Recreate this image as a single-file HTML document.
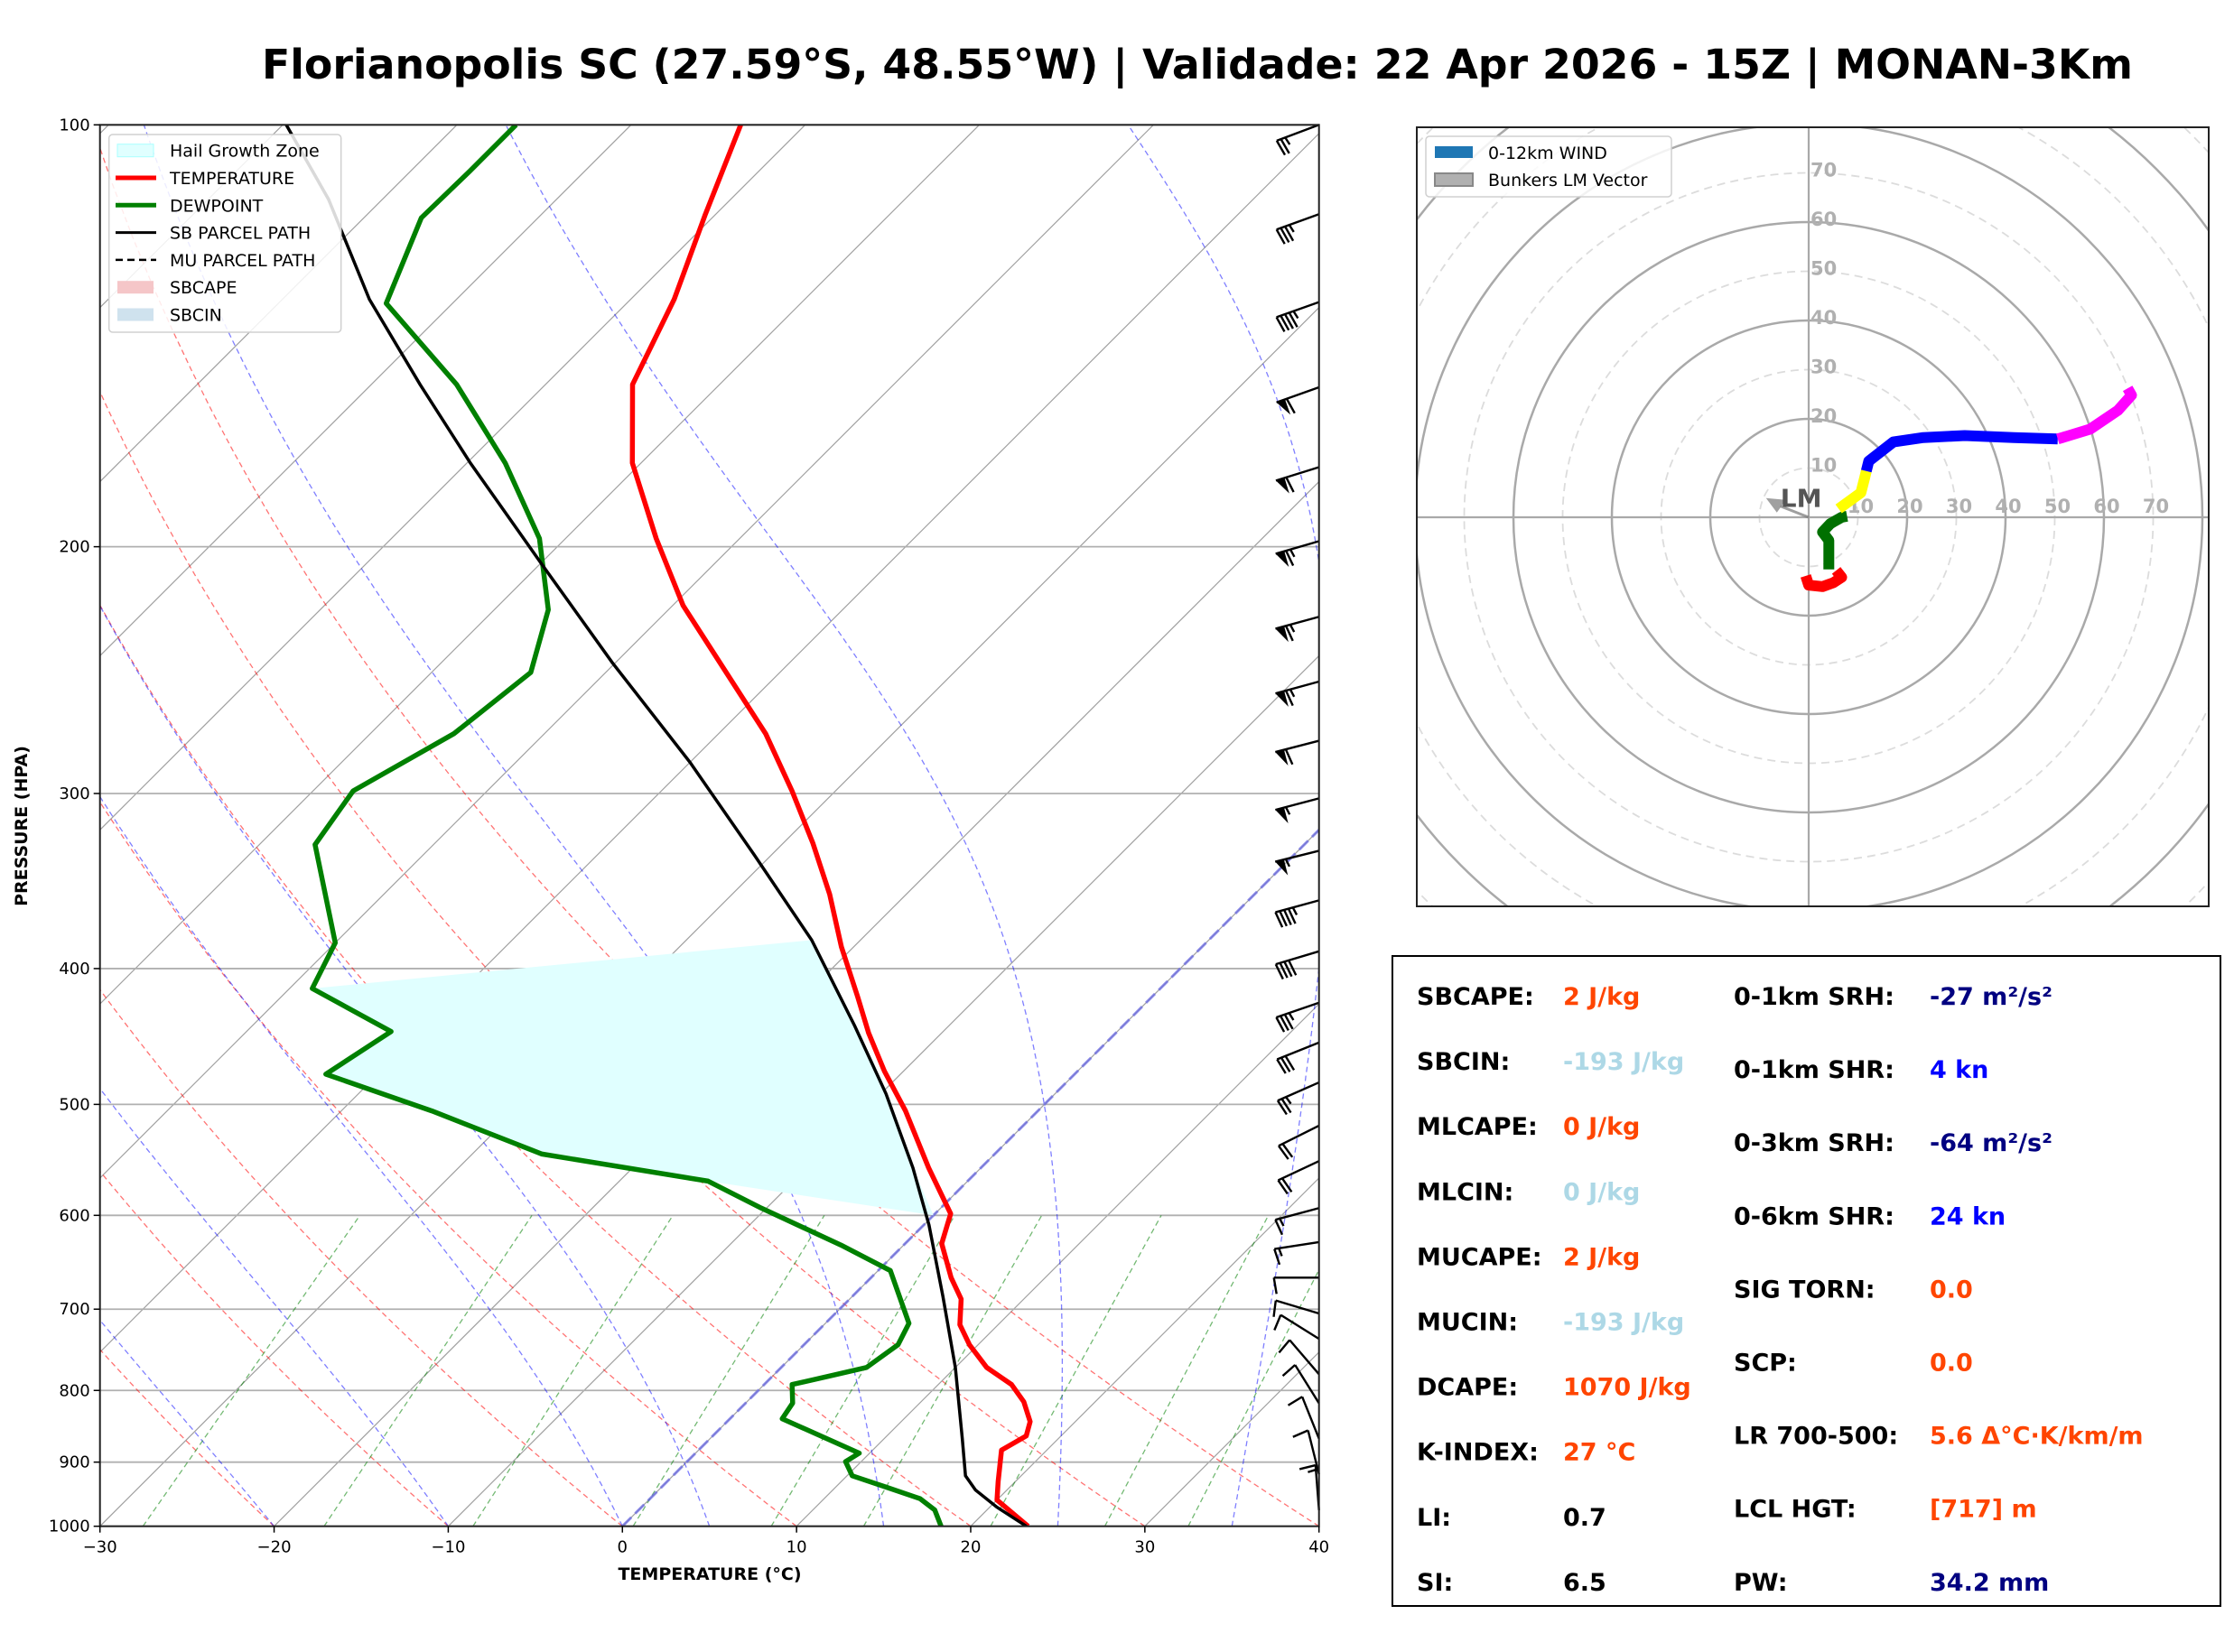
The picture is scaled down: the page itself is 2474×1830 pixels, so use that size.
<!DOCTYPE html>
<html><head><meta charset="utf-8">
<style>
html,body{margin:0;padding:0;background:#fff;}
svg{display:block;font-family:"DejaVu Sans","Liberation Sans",sans-serif;}
</style></head>
<body>
<svg id="fig" width="2474" height="1830" viewBox="0 0 2474 1830" xmlns="http://www.w3.org/2000/svg">
<rect x="0" y="0" width="2474" height="1830" fill="#fff"/>
<text x="1326" y="87" text-anchor="middle" font-size="45" font-weight="bold" textLength="2072" lengthAdjust="spacingAndGlyphs">Florianopolis SC (27.59°S, 48.55°W) | Validade: 22 Apr 2026 - 15Z | MONAN-3Km</text>
<defs>
<clipPath id="skewClip"><rect x="110.7" y="138.3" width="1350" height="1552.4"/></clipPath>
<clipPath id="hodoClip"><rect x="1569" y="141" width="877" height="863"/></clipPath>
</defs>
<g id="skew"></g>
<g id="hodo"></g>
<g id="stats"></g>
</svg>
<script>
// ---------- Skew-T data ----------
const tempP = [100,115.8,133.2,153.2,174.3,197.3,220.3,271.9,298.7,325.5,354,386,419,444.6,473.4,505.4,555,598.4,628.5,664.7,688.4,718.1,742.1,770.4,792.2,815,842,862,882.5,929,957.8,978,1000];
const tempT = [-73.7,-70.6,-67.5,-65.0,-60.5,-54.8,-49.4,-37.3,-32.5,-28.3,-24.4,-20.7,-16.9,-14.2,-11.1,-7.6,-3.0,0.9,2.1,4.6,6.4,7.8,9.5,11.8,14.2,15.9,17.4,18.0,17.4,19.0,20.0,21.6,23.3];
const dewP = [100,107.9,116.5,134.1,153.2,174.3,197.3,221.8,245.9,271.9,298.7,326.3,383.4,413.3,443.6,475.8,505.4,542.5,567.2,592.9,630,657,716.5,742.1,770.4,781,792.2,816.8,838.1,886.8,899.2,920.4,937.8,955.6,973.6,1000];
const dewT = [-86.6,-86.6,-86.7,-83.8,-75.1,-67.8,-61.5,-56.9,-54.3,-55.2,-57.7,-56.8,-50.0,-48.7,-41.7,-43.0,-34.8,-26.0,-14.9,-10.3,-3.6,0.7,4.8,5.4,4.9,3.3,1.6,2.7,3.0,9.4,9.1,10.3,12.9,15.5,17.0,18.3];
const parcelP = [100,113,133.2,153.2,174.3,205.8,241.9,285,331.8,381.7,439.5,491.4,555,609.6,685.4,770.4,866.3,920.4,942.3,969,1000];
const parcelT = [-99.8,-93.1,-85.0,-77.2,-69.8,-59.9,-50.2,-40.0,-31.0,-22.8,-15.4,-9.7,-3.9,0.3,5.2,10.0,14.5,16.8,18.2,20.4,23.2];
const pTicks = [100,200,300,400,500,600,700,800,900,1000];
const tTicks = [-30,-20,-10,0,10,20,30,40];
const barbP = [100,115.8,133.8,153.9,175.5,198.2,224.4,249.6,275.1,302.4,329.6,357.6,388.8,423.1,451.7,482.3,517.8,548.8,592.9,627,664.7,705,735,779,817,866,918,974];
const barbU = [24,33,42,56,58,62,62,62,58,53,52,44,40,35,30,25,20,17,15,13,12,10,8,6,5,4,3,1];
const barbV = [9,12,15,20,18,18,17,17,15,14,13,12,12,12,12,11,10,8,4,2,0,-3,-5,-7,-8,-10,-12,-13];
const dryT0 = [-30,-20,-10,0,10,20,30,40];
const moistT0 = [-20,-10,0,5,15,25,35];
const mixW = [0.0004,0.001,0.002,0.004,0.007,0.01,0.016,0.024,0.032];
// ---------- Hodograph data (kn) ----------
const hodoRedU = [-0.6,0,2.8,5,6.7,5.6];
const hodoRedV = [-11.9,-13.8,-14.1,-13.3,-12.2,-10.8];
const hodoGreenU = [4.1,4.1,2.8,4.4,6.7,7.8];
const hodoGreenV = [-10.6,-4.7,-3,-1.3,0,0.2];
const hodoYellowU = [6.1,10.6,11.4,11.7];
const hodoYellowV = [1.7,5,8.1,9.4];
const hodoBlueU = [11.7,12.2,17.2,23.3,31.7,41.7,50.6];
const hodoBlueV = [9.4,11.4,15.3,16.2,16.6,16.2,15.9];
const hodoMagU = [50.6,57.2,62.8,65.6,64.8];
const hodoMagV = [15.9,17.9,21.7,24.8,26.2];
const lmU = [-7.2];
const lmV = [2.8];
const ringLabels = [10,20,30,40,50,60,70];

const NS='http://www.w3.org/2000/svg';
function mk(tag, attrs, parent, txt){const e=document.createElementNS(NS,tag);for(const k in attrs)e.setAttribute(k,attrs[k]);if(txt!==undefined)e.textContent=txt;parent.appendChild(e);return e;}

const X0=110.7, X1=1460.7, Y100=138.3, Y1000=1690.7, PXT=(X1-X0)/70, LOGH=Y1000-Y100;
function yP(p){return Y1000 - LOGH*Math.log10(1000/p);}
function xT(T,p){return X0 + (T+30)*PXT + (Y1000 - yP(p));}
function pathTP(ps,ts){return ps.map((p,i)=>(i?'L':'M')+xT(ts[i],p).toFixed(1)+','+yP(p).toFixed(1)).join(' ');}

const skew=document.getElementById('skew');
const plot=mk('g',{'clip-path':'url(#skewClip)'},skew);



for(let T=-130;T<=40;T+=10){
  const l=mk('line',{x1:xT(T,1000),y1:yP(1000),x2:xT(T,100),y2:yP(100),stroke:'#a0a0a0','stroke-width':1.2},plot);
  
  
}
pTicks.forEach(p=>{
  const l=mk('line',{x1:X0,y1:yP(p),x2:X1,y2:yP(p),stroke:'#b0b0b0','stroke-width':1.8},plot);
  
  
});
const plev=[];for(let p=1000;p>=100;p-=10)plev.push(p);
dryT0.forEach(t0=>{
  const th=t0+273.15;
  const ts=plev.map(p=>th*Math.pow(p/1000,0.2857)-273.15);
  const l=mk('path',{d:pathTP(plev,ts),fill:'none',stroke:'rgba(255,0,0,0.55)','stroke-width':1.3,'stroke-dasharray':'6,4'},plot);
  
  
});
function es(Tc){return 6.112*Math.exp(17.67*Tc/(Tc+243.5));}
moistT0.forEach(t0=>{
  let T=t0+273.15; const ps=[1000], ts=[t0];
  for(let p=1000;p>100;p-=2){
    const e=es(T-273.15), rs=0.622*e/(p-e);
    const dTdp=(1/p)*(287*T+2.5e6*rs)/(1005+2.5e6*2.5e6*rs*0.622/(287*T*T));
    T-=dTdp*2; ps.push(p-2); ts.push(T-273.15);
  }
  const l=mk('path',{d:pathTP(ps,ts),fill:'none',stroke:'rgba(0,0,255,0.5)','stroke-width':1.3,'stroke-dasharray':'6,4'},plot);
  
  
});
mixW.forEach(w=>{
  const ps=[1000,600];
  const ts=ps.map(p=>{const e=w*p/(0.622+w);const a=Math.log(e/6.112);return 243.5*a/(17.67-a);});
  const l=mk('path',{d:pathTP(ps,ts),fill:'none',stroke:'rgba(0,128,0,0.55)','stroke-width':1.3,'stroke-dasharray':'6,4'},plot);
  
  
});
const fz=mk('line',{x1:xT(0,1000),y1:yP(1000),x2:xT(0,100),y2:yP(100),stroke:'rgba(100,100,230,0.7)','stroke-width':3,'stroke-dasharray':'14,6'},plot);



(function(){
  const pts=[];
  parcelP.forEach((p,i)=>{if(p>=381&&p<=600)pts.push([xT(parcelT[i],p),yP(p)]);});
  pts.push([xT(0.0,600),yP(600)]);
  for(let i=dewP.length-1;i>=0;i--){const p=dewP[i];if(p>=413&&p<=570)pts.push([xT(dewT[i],p),yP(p)]);}
  const h=mk('polygon',{points:pts.map(q=>q[0].toFixed(1)+','+q[1].toFixed(1)).join(' '),fill:'#e0ffff',stroke:'none'},plot);
  
  
})();

const tl=mk('path',{d:pathTP(tempP,tempT),fill:'none',stroke:'#ff0000','stroke-width':5.5,'stroke-linejoin':'round'},plot);


const dl=mk('path',{d:pathTP(dewP,dewT),fill:'none',stroke:'#008000','stroke-width':5.5,'stroke-linejoin':'round'},plot);


const pl=mk('path',{d:pathTP(parcelP,parcelT),fill:'none',stroke:'#000','stroke-width':3.5},plot);



barbP.forEach((p,i)=>{
  const u=barbU[i], v=barbV[i]; const spd=Math.hypot(u,v);
  const ax=X1, ay=yP(p); const L=50;
  const sx=-u/spd, sy=v/spd;
  const fx=sy, fy=-sx;
  const g=mk('g',{stroke:'#000','stroke-width':2.4,fill:'#000'},skew);
  
  
  const ex=ax+sx*L, ey=ay+sy*L;
  mk('line',{x1:ax,y1:ay,x2:ex,y2:ey},g);
  let r=Math.round(spd/5)*5; let pos=0;
  while(r>=50){const a=[ex-sx*pos,ey-sy*pos],b=[ex-sx*(pos+10),ey-sy*(pos+10)],c=[b[0]+fx*18,b[1]+fy*18];
    mk('polygon',{points:a.join(',')+' '+b.join(',')+' '+c.join(','),stroke:'none'},g);pos+=12;r-=50;}
  while(r>=10){const a=[ex-sx*pos,ey-sy*pos];mk('line',{x1:a[0],y1:a[1],x2:a[0]+fx*18-sx*3,y2:a[1]+fy*18-sy*3},g);pos+=5;r-=10;}
  if(r>=5){if(pos===0)pos=6;const a=[ex-sx*pos,ey-sy*pos];mk('line',{x1:a[0],y1:a[1],x2:a[0]+fx*9-sx*2,y2:a[1]+fy*9-sy*2},g);}
});

const fr=mk('rect',{x:X0,y:Y100,width:X1-X0,height:Y1000-Y100,fill:'none',stroke:'#222','stroke-width':2},skew);


pTicks.forEach(p=>{
  mk('line',{x1:X0-7,y1:yP(p),x2:X0,y2:yP(p),stroke:'#000','stroke-width':1.5},skew);
  const t=mk('text',{x:X0-11,y:yP(p)+6,'text-anchor':'end','font-size':18},skew,String(p));
  
  
});
tTicks.forEach(T=>{
  const x=X0+(T+30)*PXT;
  mk('line',{x1:x,y1:Y1000,x2:x,y2:Y1000+7,stroke:'#000','stroke-width':1.5},skew);
  const t=mk('text',{x:x,y:Y1000+29,'text-anchor':'middle','font-size':18},skew,String(T).replace('-','\u2212'));
  
  
});
const xl=mk('text',{x:786,y:1750,'text-anchor':'middle','font-size':19,'font-weight':'bold'},skew,'TEMPERATURE (°C)');


const yl=mk('text',{x:0,y:0,'text-anchor':'middle','font-size':19,'font-weight':'bold',transform:'translate(30,915) rotate(-90)'},skew,'PRESSURE (HPA)');



const lg=mk('g',{},skew);


mk('rect',{x:120.7,y:149,width:257,height:219,rx:4,fill:'rgba(255,255,255,0.85)',stroke:'#d0d0d0','stroke-width':1.5},lg);
const legItems=[['Hail Growth Zone','patch','#e0ffff','#aaffff'],['TEMPERATURE','line','#ff0000'],['DEWPOINT','line','#008000'],['SB PARCEL PATH','line','#000'],['MU PARCEL PATH','dash','#000'],['SBCAPE','patch','#f5c6c8','none'],['SBCIN','patch','#cfe2ee','none']];
legItems.forEach((it,i)=>{
  const cy=166.7+i*30.3;
  const e=mk('g',{},lg);
  
  
  if(it[1]==='patch')mk('rect',{x:130,y:cy-7,width:40,height:14,fill:it[2],stroke:it[3],'stroke-width':1},e);
  else if(it[1]==='line')mk('line',{x1:128,y1:cy,x2:173,y2:cy,stroke:it[2],'stroke-width':it[2]==='#000'?3:5},e);
  else mk('line',{x1:128,y1:cy,x2:173,y2:cy,stroke:it[2],'stroke-width':2.5,'stroke-dasharray':'8,5'},e);
  mk('text',{x:188,y:cy+7,'font-size':19},e,it[0]);
});

// ---------- Hodograph ----------
const hodo=document.getElementById('hodo');
const HX=2003, HY=573, HK=5.45;
function hx(u){return HX+u*HK;} function hy(v){return HY-v*HK;}
const hg=mk('g',{'clip-path':'url(#hodoClip)'},hodo);
for(let r=10;r<=110;r+=10){
  const c=mk('circle',{cx:HX,cy:HY,r:r*HK,fill:'none',stroke:r%20===0?'#a9a9a9':'#dcdcdc','stroke-width':r%20===0?2.5:1.8,'stroke-dasharray':r%20===0?'none':'9,6'},hg);
  
  
}
mk('line',{x1:1569,y1:HY,x2:2446,y2:HY,stroke:'#a9a9a9','stroke-width':2.2},hg);
mk('line',{x1:HX,y1:141,x2:HX,y2:1004,stroke:'#a9a9a9','stroke-width':2.2},hg);
ringLabels.forEach(k=>{
  const a=mk('text',{x:hx(k)+3,y:HY-5,'text-anchor':'middle','font-size':21,'font-weight':'bold',fill:'#b0b0b0'},hg,String(k));
  
  
  const b=mk('text',{x:HX+2,y:hy(k)+4,'font-size':21,'font-weight':'bold',fill:'#b0b0b0'},hg,String(k));
  
  
});
const lmx=hx(lmU[0]), lmy=hy(lmV[0]);
mk('line',{x1:HX,y1:HY,x2:lmx+8,y2:lmy+3,stroke:'#777','stroke-width':3,opacity:0.7},hg);
const lmh=mk('polygon',{points:(lmx-8)+','+(lmy-6)+' '+(lmx+14)+','+(lmy-4)+' '+(lmx+4)+','+(lmy+10),fill:'#777',opacity:0.7},hg);


const lmt=mk('text',{x:lmx+8,y:lmy+4,'font-size':28,'font-weight':'bold',fill:'#555'},hg,'LM');


[[hodoRedU,hodoRedV,'#ff0000','hodo-segment-red'],[hodoGreenU,hodoGreenV,'#007000','hodo-segment-green'],[hodoYellowU,hodoYellowV,'#ffff00','hodo-segment-yellow'],[hodoBlueU,hodoBlueV,'#0000ff','hodo-segment-blue'],[hodoMagU,hodoMagV,'#ff00ff','hodo-segment-magenta']].forEach(s=>{
  const d=s[0].map((u,i)=>(i?'L':'M')+hx(u).toFixed(1)+','+hy(s[1][i]).toFixed(1)).join(' ');
  const l=mk('path',{d:d,fill:'none',stroke:s[2],'stroke-width':12,'stroke-linejoin':'round'},hg);
  
  
});
const hf=mk('rect',{x:1569,y:141,width:877,height:863,fill:'none',stroke:'#222','stroke-width':2},hodo);


const hl=mk('g',{},hodo);


mk('rect',{x:1579,y:151,width:272,height:67,rx:4,fill:'rgba(255,255,255,0.85)',stroke:'#d0d0d0','stroke-width':1.5},hl);
const he1=mk('g',{},hl);


mk('rect',{x:1589,y:162,width:42,height:13,fill:'#1f77b4'},he1);
mk('text',{x:1648,y:176,'font-size':19},he1,'0-12km WIND');
const he2=mk('g',{},hl);


mk('rect',{x:1589,y:192,width:42,height:14,fill:'#b0b0b0',stroke:'#888','stroke-width':2},he2);
mk('text',{x:1648,y:206,'font-size':19},he2,'Bunkers LM Vector');

// ---------- Stats panel ----------
const st=document.getElementById('stats');
mk('rect',{x:1542,y:1059,width:917,height:720,fill:'#fff',stroke:'#000','stroke-width':2},st);
const leftRows=[['SBCAPE:','2 J/kg','#ff4500'],['SBCIN:','-193 J/kg','#add8e6'],['MLCAPE:','0 J/kg','#ff4500'],['MLCIN:','0 J/kg','#add8e6'],['MUCAPE:','2 J/kg','#ff4500'],['MUCIN:','-193 J/kg','#add8e6'],['DCAPE:','1070 J/kg','#ff4500'],['K-INDEX:','27 °C','#ff4500'],['LI:','0.7','#000'],['SI:','6.5','#000']];
const rightRows=[['0-1km SRH:','-27 m²/s²','#000080'],['0-1km SHR:','4 kn','#0000ff'],['0-3km SRH:','-64 m²/s²','#000080'],['0-6km SHR:','24 kn','#0000ff'],['SIG TORN:','0.0','#ff4500'],['SCP:','0.0','#ff4500'],['LR 700-500:','5.6 Δ°C·K/km/m','#ff4500'],['LCL HGT:','[717] m','#ff4500'],['PW:','34.2 mm','#000080']];
leftRows.forEach((r,i)=>{
  const y=1113+i*72.1;
  const a=mk('text',{x:1569,y:y,'font-size':27,'font-weight':'bold'},st,r[0]);
  
  
  const b=mk('text',{x:1731,y:y,'font-size':27,'font-weight':'bold',fill:r[2]},st,r[1]);
  
  
});
rightRows.forEach((r,i)=>{
  const y=1113+i*81.1;
  const a=mk('text',{x:1920,y:y,'font-size':27,'font-weight':'bold'},st,r[0]);
  
  
  const b=mk('text',{x:2137,y:y,'font-size':27,'font-weight':'bold',fill:r[2]},st,r[1]);
  
  
});
</script>
</body></html>
